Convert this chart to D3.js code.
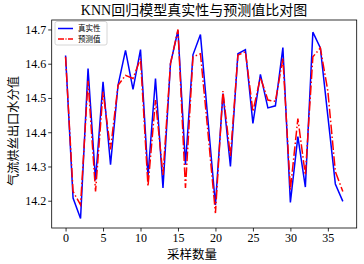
<!DOCTYPE html>
<html>
<head>
<meta charset="utf-8">
<script src="https://d3js.org/d3.v7.min.js"></script>
<style>
body { margin: 0; background: #fff; }
</style>
</head>
<body>
<div id="chart"></div>
<script>
var W = 364, H = 264;
var serif = '"Liberation Serif", "Times New Roman", "DejaVu Serif", "Noto Sans CJK SC", serif';

// values
var actual = [14.624, 14.208, 14.148, 14.586, 14.260, 14.547, 14.305, 14.537, 14.639, 14.525,
    14.641, 14.271, 14.557, 14.237, 14.600, 14.697, 14.305, 14.626, 14.685, 14.436,
    14.188, 14.513, 14.300, 14.629, 14.641, 14.426, 14.569, 14.471, 14.477, 14.647,
    14.195, 14.387, 14.240, 14.692, 14.646, 14.447, 14.249, 14.198];
var predicted = [14.620, 14.227, 14.188, 14.550, 14.227, 14.518, 14.350, 14.537, 14.566, 14.557,
    14.615, 14.242, 14.494, 14.275, 14.600, 14.700, 14.237, 14.620, 14.629, 14.400,
    14.164, 14.520, 14.329, 14.625, 14.635, 14.460, 14.560, 14.494, 14.490, 14.615,
    14.232, 14.440, 14.275, 14.620, 14.646, 14.520, 14.285, 14.227];
var xTicks = [0, 5, 10, 15, 20, 25, 30, 35];
var yTicks = [14.2, 14.3, 14.4, 14.5, 14.6, 14.7];
var seriesNames = ['真实性', '预测值'];

var pLeft = 51.7, pRight = 356.7, pTop = 20, pBottom = 228;

var svg = d3.select('#chart').append('svg')
    .attr('width', W)
    .attr('height', H)
    .style('font-family', serif);

// matplotlib style 5% margins
var n = actual.length;
var xPad = (n - 1) * 0.05;
var x = d3.scaleLinear().domain([-xPad, n - 1 + xPad]).range([pLeft, pRight]);

var all = actual.concat(predicted);
var lo = d3.min(all), hi = d3.max(all);
var yPad = (hi - lo) * 0.05;
var y = d3.scaleLinear().domain([lo - yPad, hi + yPad]).range([pBottom, pTop]);

var line = d3.line()
    .x((d, i) => x(i))
    .y(d => y(d));

svg.append('path')
    .datum(actual)
    .attr('d', line)
    .attr('fill', 'none')
    .attr('stroke', '#0000ff')
    .attr('stroke-width', 1.5);

svg.append('path')
    .datum(predicted)
    .attr('d', line)
    .attr('fill', 'none')
    .attr('stroke', '#ff0000')
    .attr('stroke-width', 1.5)
    .attr('stroke-dasharray', '9.6,2.4,1.5,2.4');

// axes
var xAxis = svg.append('g')
    .attr('transform', 'translate(0,' + pBottom + ')')
    .call(d3.axisBottom(x).tickValues(xTicks).tickSize(3.5).tickPadding(2));
var yAxis = svg.append('g')
    .attr('transform', 'translate(' + pLeft + ',0)')
    .call(d3.axisLeft(y).tickValues(yTicks).tickFormat(d3.format('.1f')).tickSize(3.5).tickPadding(2));

[xAxis, yAxis].forEach(function (g) {
    g.attr('font-family', null);
    g.select('.domain').remove();
    g.selectAll('line').attr('stroke', '#000').attr('stroke-width', 0.8);
    g.selectAll('text').attr('font-size', 12).attr('fill', '#000').style('font-family', serif);
});

// frame
svg.append('rect')
    .attr('x', pLeft)
    .attr('y', pTop)
    .attr('width', pRight - pLeft)
    .attr('height', pBottom - pTop)
    .attr('fill', 'none')
    .attr('stroke', '#000')
    .attr('stroke-width', 0.8);

// titles
svg.append('text')
    .attr('x', 194)
    .attr('y', 15)
    .attr('text-anchor', 'middle')
    .attr('font-size', 14)
    .text('KNN回归模型真实性与预测值比对图');

svg.append('text')
    .attr('x', 192)
    .attr('y', 259)
    .attr('text-anchor', 'middle')
    .attr('font-size', 12.5)
    .text('采样数量');

svg.append('text')
    .attr('transform', 'translate(18,131) rotate(-90)')
    .attr('text-anchor', 'middle')
    .attr('font-size', 12.2)
    .text('气流烘丝出口水分值');

// legend
var lg = svg.append('g');
lg.append('rect')
    .attr('x', 55)
    .attr('y', 21.5)
    .attr('width', 52)
    .attr('height', 23.5)
    .attr('rx', 2)
    .attr('fill', '#fff')
    .attr('fill-opacity', 0.8)
    .attr('stroke', '#ccc')
    .attr('stroke-width', 0.8);

var styles = [{ c: '#0000ff', dash: null }, { c: '#ff0000', dash: '6,1.5,1,1.5' }];
seriesNames.forEach(function (name, i) {
    var ly = 28.5 + i * 10.5;
    lg.append('line')
        .attr('x1', 58).attr('x2', 73)
        .attr('y1', ly).attr('y2', ly)
        .attr('stroke', styles[i].c)
        .attr('stroke-width', 1.5)
        .attr('stroke-dasharray', styles[i].dash);
    lg.append('text')
        .attr('x', 78)
        .attr('y', ly + 2.8)
        .attr('font-size', 7.5)
        .text(name);
});
</script>
</body>
</html>
